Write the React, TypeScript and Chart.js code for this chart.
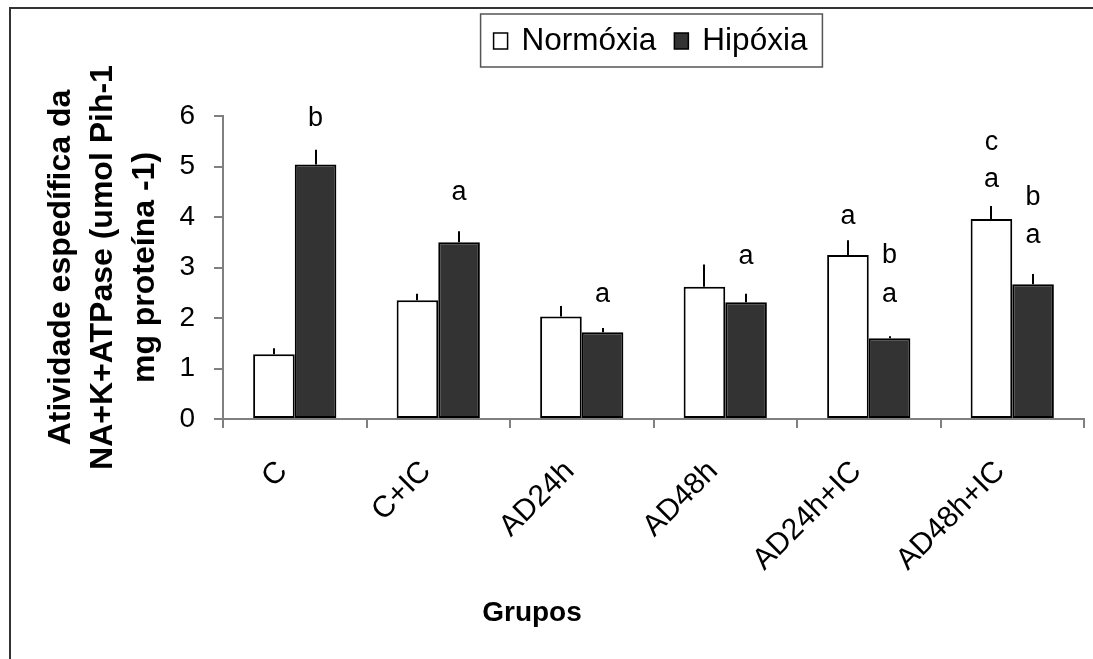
import React, { useEffect, useRef } from 'react';
import { Chart, registerables } from 'chart.js';

Chart.register(...registerables);

const categories = ['C', 'C+IC', 'AD24h', 'AD48h', 'AD24h+IC', 'AD48h+IC'];
const seriesNames = ['Normóxia', 'Hipóxia'];
const normoxia = [1.28, 2.35, 2.03, 2.62, 3.25, 3.96];
const normoxiaErr = [0.12, 0.13, 0.21, 0.44, 0.29, 0.26];
const hipoxia = [5.04, 3.5, 1.72, 2.31, 1.6, 2.67];
const hipoxiaErr = [0.29, 0.22, 0.08, 0.17, 0.04, 0.2];
// significance letters: [letter, value where the letter is centred]
const normoxiaLetters: [string, number][][] = [[], [], [], [], [['a', 4.01]], [['c', 5.48], ['a', 4.74]]];
const hipoxiaLetters: [string, number][][] = [
  [['b', 5.94]],
  [['a', 4.48]],
  [['a', 2.46]],
  [['a', 3.21]],
  [['b', 3.23], ['a', 2.46]],
  [['b', 4.39], ['a', 3.63]],
];
const yMin = 0;
const yMax = 6;
const yStep = 1;
const yTitleLines = ['Atividade espedífica da', 'NA+K+ATPase (umol Pih-1', 'mg proteína -1)'];
const xTitle = 'Grupos';

const FONT = '"Liberation Sans", Arial, sans-serif';
const FILLS = ['#ffffff', '#333333'];

const decor = {
  id: 'decor',
  beforeDraw(chart: any) {
    const { ctx, width, height } = chart;
    ctx.save();
    ctx.fillStyle = '#ffffff';
    ctx.fillRect(0, 0, width, height);
    ctx.strokeStyle = '#333333';
    ctx.lineWidth = 2;
    ctx.strokeRect(10, 8, width + 20, height + 20);
    ctx.restore();
  },
  afterDatasetsDraw(chart: any) {
    const { ctx } = chart;
    const yScale = chart.scales.y;
    const errs = [normoxiaErr, hipoxiaErr];
    const vals = [normoxia, hipoxia];
    const letters = [normoxiaLetters, hipoxiaLetters];
    ctx.save();
    for (let d = 0; d < 2; d++) {
      const meta = chart.getDatasetMeta(d);
      meta.data.forEach((bar: any, i: number) => {
        const top = yScale.getPixelForValue(vals[d][i]);
        const end = yScale.getPixelForValue(vals[d][i] + errs[d][i]);
        ctx.strokeStyle = '#000000';
        ctx.lineWidth = 2;
        ctx.beginPath();
        ctx.moveTo(Math.round(bar.x), top);
        ctx.lineTo(Math.round(bar.x), end);
        ctx.stroke();
        ctx.fillStyle = '#000000';
        ctx.font = `27px ${FONT}`;
        ctx.textAlign = 'center';
        ctx.textBaseline = 'middle';
        letters[d][i].forEach(([txt, v]) => {
          ctx.fillText(txt, bar.x, yScale.getPixelForValue(v));
        });
      });
    }
    ctx.restore();
  },
  afterDraw(chart: any) {
    const { ctx, chartArea } = chart;
    ctx.save();
    // legend
    ctx.font = `31.5px ${FONT}`;
    ctx.textBaseline = 'alphabetic';
    ctx.textAlign = 'left';
    const w1 = ctx.measureText(seriesNames[0]).width;
    const w2 = ctx.measureText(seriesNames[1]).width;
    const boxW = 13 + 28 + w1 + 18 + 28 + w2 + 15;
    const cx = (chartArea.left + chartArea.right) / 2 - 2;
    const bx = cx - boxW / 2;
    const by = 14;
    const bh = 53;
    ctx.strokeStyle = '#555555';
    ctx.lineWidth = 1.5;
    ctx.strokeRect(bx, by, boxW, bh);
    let x = bx + 13;
    for (let i = 0; i < 2; i++) {
      ctx.fillStyle = FILLS[i];
      ctx.fillRect(x, 33, 14, 16);
      ctx.strokeStyle = '#000000';
      ctx.lineWidth = 1.5;
      ctx.strokeRect(x, 33, 14, 16);
      x += 28;
      ctx.fillStyle = '#000000';
      ctx.fillText(seriesNames[i], x, 50);
      x += (i === 0 ? w1 : w2) + 18;
    }
    // y title
    ctx.font = `bold 32px ${FONT}`;
    ctx.textAlign = 'center';
    ctx.textBaseline = 'alphabetic';
    const midY = (chartArea.top + chartArea.bottom) / 2;
    yTitleLines.forEach((line, i) => {
      ctx.save();
      ctx.translate(70 + i * 42, midY);
      ctx.rotate(-Math.PI / 2);
      ctx.fillText(line, 0, 0);
      ctx.restore();
    });
    // x title
    ctx.font = `bold 28px ${FONT}`;
    ctx.textAlign = 'center';
    ctx.fillText(xTitle, chartArea.left + 309, 621);
    ctx.restore();
  },
};

export default function App() {
  const ref = useRef<HTMLCanvasElement | null>(null);
  useEffect(() => {
    if (!ref.current) return;
    const chart = new Chart(ref.current, {
      type: 'bar',
      data: {
        labels: categories,
        datasets: [
          {
            label: seriesNames[0],
            data: normoxia,
            backgroundColor: FILLS[0],
            borderColor: '#000000',
            borderWidth: 2,
            borderSkipped: false,
            categoryPercentage: 0.58,
            barPercentage: 1.0,
          },
          {
            label: seriesNames[1],
            data: hipoxia,
            backgroundColor: FILLS[1],
            borderColor: '#000000',
            borderWidth: 2,
            borderSkipped: false,
            categoryPercentage: 0.58,
            barPercentage: 1.0,
          },
        ],
      },
      options: {
        responsive: false,
        animation: false,
        devicePixelRatio: 1,
        layout: { padding: { top: 116, right: 9, left: 0, bottom: 0 } },
        plugins: { legend: { display: false }, tooltip: { enabled: false }, title: { display: false } },
        scales: {
          x: {
            type: 'category',
            offset: true,
            grid: { display: true, offset: true, drawOnChartArea: false, drawTicks: true, tickLength: 9, color: '#808080', lineWidth: 2 },
            border: { display: true, color: '#808080', width: 2 },
            ticks: {
              color: '#000000',
              font: { family: FONT, size: 30 },
              minRotation: 45,
              maxRotation: 45,
              padding: 26,
              labelOffset: -12,
              autoSkip: false,
            },
            afterFit: (s: any) => {
              s.height = 240;
            },
          },
          y: {
            min: yMin,
            max: yMax,
            grid: { display: true, drawOnChartArea: false, drawTicks: true, tickLength: 9, color: '#808080', lineWidth: 2 },
            border: { display: true, color: '#808080', width: 2 },
            ticks: {
              stepSize: yStep,
              color: '#000000',
              font: { family: FONT, size: 28 },
              padding: 19,
            },
            afterFit: (s: any) => {
              s.width = 223;
            },
          },
        },
      },
      plugins: [decor],
    });
    return () => chart.destroy();
  }, []);
  return (
    <div style={{ position: 'fixed', left: 0, top: 0, width: 1093, height: 659, overflow: 'hidden', background: '#fff' }}>
      <canvas ref={ref} width={1093} height={659} style={{ display: 'block' }} />
    </div>
  );
}
